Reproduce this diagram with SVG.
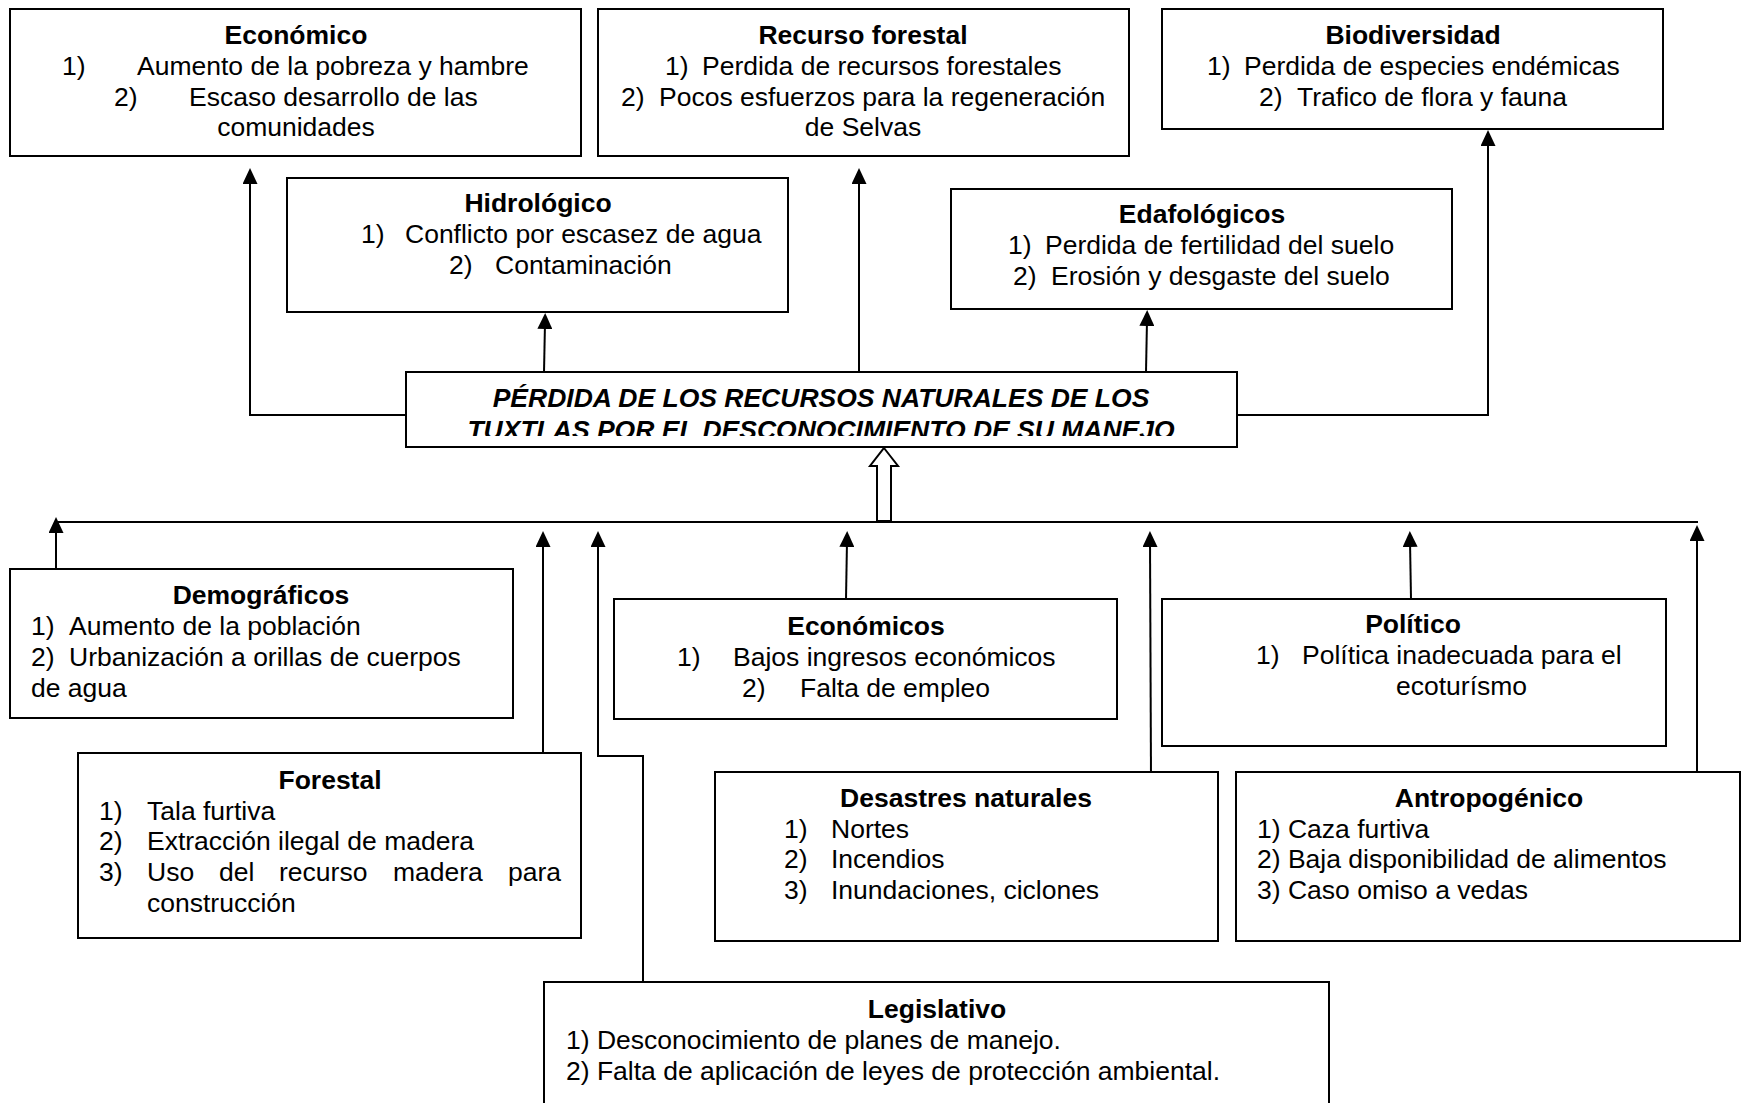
<svg xmlns="http://www.w3.org/2000/svg" width="1742" height="1103" viewBox="0 0 1742 1103">
  <style>
    text { font-family: "Liberation Sans", Arial, sans-serif; font-size: 26.5px; fill: #000; }
    .h { font-weight: bold; text-anchor: middle; }
    .c { text-anchor: middle; }
    .main { font-weight: bold; font-style: italic; text-anchor: middle; }
    .box { fill: #fff; stroke: #000; stroke-width: 2; }
    .wire { fill: none; stroke: #000; stroke-width: 2; }
    .wire-a { fill: none; stroke: #000; stroke-width: 2; marker-end: url(#tip); }
  </style>
  <defs>
    <!-- filled arrowhead, tip 10px beyond the end of the line -->
    <marker id="tip" markerUnits="userSpaceOnUse" viewBox="0 0 16 15" markerWidth="16" markerHeight="15" refX="6" refY="7.5" orient="auto">
      <path d="M0,0 L16,7.5 L0,15 z" fill="#000"/>
    </marker>
    <clipPath id="mainClip">
      <rect x="406" y="372" width="831" height="64"/>
    </clipPath>
  </defs>

  <rect width="1742" height="1103" fill="#fff"/>

  <!-- connectors -->
  <g id="connectors">
    <!-- effects, upward from the central problem -->
    <polyline class="wire-a" points="406,415 250,415 250,178"/>
    <line class="wire-a" x1="544" y1="372" x2="545" y2="323"/>
    <line class="wire-a" x1="859" y1="372" x2="859" y2="178"/>
    <line class="wire-a" x1="1146" y1="372" x2="1147" y2="320"/>
    <polyline class="wire-a" points="1237,415 1488,415 1488,140"/>

    <!-- causes bus -->
    <line class="wire" x1="56" y1="522" x2="1698" y2="522"/>
    <polygon points="884,448 898,466 891,466 891,521 877,521 877,466 870,466" fill="#fff" stroke="#000" stroke-width="2" stroke-linejoin="miter"/>

    <line class="wire-a" x1="56" y1="569" x2="56" y2="527"/>
    <line class="wire-a" x1="543" y1="753" x2="543" y2="541"/>
    <polyline class="wire-a" points="643,982 643,756 598,756 598,541"/>
    <line class="wire-a" x1="846" y1="599" x2="847" y2="541"/>
    <line class="wire-a" x1="1151" y1="777" x2="1150" y2="541"/>
    <line class="wire-a" x1="1411" y1="599" x2="1410" y2="541"/>
    <line class="wire-a" x1="1697" y1="772" x2="1697" y2="535"/>
  </g>

  <!-- central problem -->
  <g id="n-problema">
    <rect class="box" x="406" y="372" width="831" height="75"/>
    <g clip-path="url(#mainClip)">
      <text class="main" x="821" y="407">PÉRDIDA DE LOS RECURSOS NATURALES DE LOS</text>
      <text class="main" x="821" y="439">TUXTLAS POR EL DESCONOCIMIENTO DE SU MANEJO</text>
    </g>
  </g>

  <!-- effects -->
  <g id="n-economico">
    <rect class="box" x="10" y="9" width="571" height="147"/>
    <text class="h" x="296" y="44">Económico</text>
    <text x="62" y="75">1)</text><text x="137" y="75">Aumento de la pobreza y hambre</text>
    <text x="114" y="106">2)</text><text x="189" y="106">Escaso desarrollo de las</text>
    <text class="c" x="296" y="136">comunidades</text>
  </g>

  <g id="n-recurso-forestal">
    <rect class="box" x="598" y="9" width="531" height="147"/>
    <text class="h" x="863" y="44">Recurso forestal</text>
    <text x="665" y="75">1)</text><text x="702" y="75">Perdida de recursos forestales</text>
    <text x="621" y="106">2)</text><text x="659" y="106">Pocos esfuerzos para la regeneración</text>
    <text class="c" x="863" y="136">de Selvas</text>
  </g>

  <g id="n-biodiversidad">
    <rect class="box" x="1162" y="9" width="501" height="120"/>
    <text class="h" x="1413" y="44">Biodiversidad</text>
    <text x="1207" y="75">1)</text><text x="1244" y="75">Perdida de especies endémicas</text>
    <text x="1259" y="106">2)</text><text x="1297" y="106">Trafico de flora y fauna</text>
  </g>

  <g id="n-hidrologico">
    <rect class="box" x="287" y="178" width="501" height="134"/>
    <text class="h" x="538" y="212">Hidrológico</text>
    <text x="361" y="243">1)</text><text x="405" y="243">Conflicto por escasez de agua</text>
    <text x="449" y="274">2)</text><text x="495" y="274">Contaminación</text>
  </g>

  <g id="n-edafologicos">
    <rect class="box" x="951" y="189" width="501" height="120"/>
    <text class="h" x="1202" y="223">Edafológicos</text>
    <text x="1008" y="254">1)</text><text x="1045" y="254">Perdida de fertilidad del suelo</text>
    <text x="1013" y="285">2)</text><text x="1051" y="285">Erosión y desgaste del suelo</text>
  </g>

  <!-- causes -->
  <g id="n-demograficos">
    <rect class="box" x="10" y="569" width="503" height="149"/>
    <text class="h" x="261" y="604">Demográficos</text>
    <text x="31" y="635">1)</text><text x="69" y="635">Aumento de la población</text>
    <text x="31" y="666">2)</text><text x="69" y="666">Urbanización a orillas de cuerpos</text>
    <text x="31" y="697">de agua</text>
  </g>

  <g id="n-forestal">
    <rect class="box" x="78" y="753" width="503" height="185"/>
    <text class="h" x="330" y="789">Forestal</text>
    <text x="99" y="820">1)</text><text x="147" y="820">Tala furtiva</text>
    <text x="99" y="850">2)</text><text x="147" y="850">Extracción ilegal de madera</text>
    <text x="99" y="881">3)</text>
    <text y="881"><tspan x="147">Uso</tspan><tspan x="219">del</tspan><tspan x="279">recurso</tspan><tspan x="393">madera</tspan><tspan x="508">para</tspan></text>
    <text x="147" y="912">construcción</text>
  </g>

  <g id="n-economicos">
    <rect class="box" x="614" y="599" width="503" height="120"/>
    <text class="h" x="866" y="635">Económicos</text>
    <text x="677" y="666">1)</text><text x="733" y="666">Bajos ingresos económicos</text>
    <text x="742" y="697">2)</text><text x="800" y="697">Falta de empleo</text>
  </g>

  <g id="n-politico">
    <rect class="box" x="1162" y="599" width="504" height="147"/>
    <text class="h" x="1413" y="633">Político</text>
    <text x="1256" y="664">1)</text><text x="1302" y="664">Política inadecuada para el</text>
    <text x="1396" y="695">ecoturísmo</text>
  </g>

  <g id="n-desastres">
    <rect class="box" x="715" y="772" width="503" height="169"/>
    <text class="h" x="966" y="807">Desastres naturales</text>
    <text x="784" y="838">1)</text><text x="831" y="838">Nortes</text>
    <text x="784" y="868">2)</text><text x="831" y="868">Incendios</text>
    <text x="784" y="899">3)</text><text x="831" y="899">Inundaciones, ciclones</text>
  </g>

  <g id="n-antropogenico">
    <rect class="box" x="1236" y="772" width="504" height="169"/>
    <text class="h" x="1489" y="807">Antropogénico</text>
    <text x="1257" y="838">1) Caza furtiva</text>
    <text x="1257" y="868">2) Baja disponibilidad de alimentos</text>
    <text x="1257" y="899">3) Caso omiso a vedas</text>
  </g>

  <g id="n-legislativo">
    <rect class="box" x="544" y="982" width="785" height="140"/>
    <text class="h" x="937" y="1018">Legislativo</text>
    <text x="566" y="1049">1) Desconocimiento de planes de manejo.</text>
    <text x="566" y="1080">2) Falta de aplicación de leyes de protección ambiental.</text>
  </g>
</svg>
